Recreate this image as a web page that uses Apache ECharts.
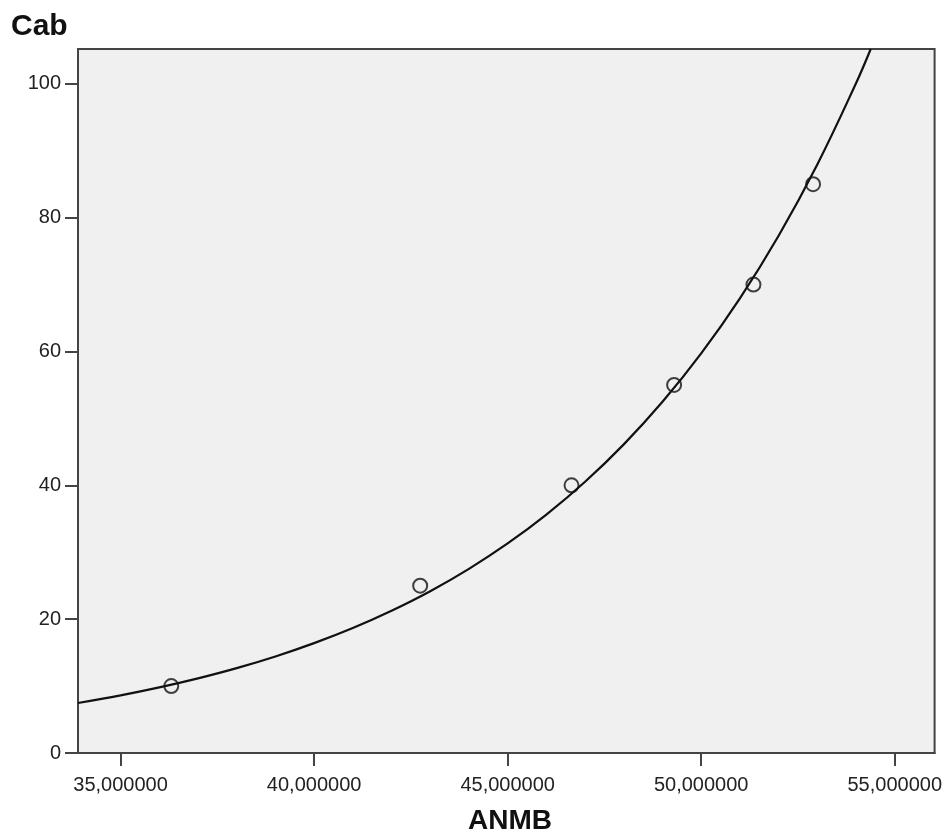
<!DOCTYPE html>
<html>
<head>
<meta charset="utf-8">
<script src="https://cdn.jsdelivr.net/npm/echarts@6/dist/echarts.min.js"></script>
<style>
  html, body { margin: 0; padding: 0; background: #fff; }
  #main { width: 945px; height: 832px; }
</style>
</head>
<body>
<div id="main"></div>
<script>
// observed cases
var anmb = [36.31, 42.74, 46.65, 49.30, 51.35, 52.89];
var cab = [10, 25, 40, 55, 70, 85];

// fitted curve
var curveX = [33.9, 35, 36, 37, 38, 39, 40, 41, 42, 43, 44, 45, 46, 47, 48, 49, 50, 51, 52, 53, 54, 54.38];
var curveY = [7.47, 8.61, 9.80, 11.15, 12.68, 14.43, 16.42, 18.68, 21.26, 24.18, 27.52, 31.31, 35.62, 40.53, 46.12, 52.48, 59.71, 67.94, 77.30, 87.95, 100.08, 105.2];

var xTicks = [35, 40, 45, 50, 55];
var yTicks = [0, 20, 40, 60, 80, 100];

var points = anmb.map(function (x, i) { return [x, cab[i]]; });
var curve = curveX.map(function (x, i) { return [x, curveY[i]]; });

var font = 'Liberation Sans, Arial, sans-serif';

var chart = echarts.init(document.getElementById('main'));
chart.setOption({
  animation: false,
  backgroundColor: '#fff',
  title: [
    { text: 'Cab', left: 6, top: 7, textStyle: { fontFamily: font, fontSize: 30, fontWeight: 'bold', color: '#111' } },
    { text: 'ANMB', left: 505, textAlign: 'center', top: 802, textStyle: { fontFamily: font, fontSize: 28, fontWeight: 'bold', color: '#111' } }
  ],
  grid: {
    left: 78, top: 49, right: 9, bottom: 79,
    show: true, backgroundColor: '#f0f0f0', borderColor: '#444', borderWidth: 2
  },
  xAxis: {
    type: 'value', min: 33.9, max: 56.03,
    axisLine: { lineStyle: { color: '#444', width: 2 } },
    axisTick: { customValues: xTicks, length: 13, lineStyle: { color: '#444', width: 2 } },
    axisLabel: {
      customValues: xTicks, margin: 22, fontFamily: font, fontSize: 20, color: '#222',
      formatter: function (v) { return v.toFixed(6).replace('.', ','); }
    },
    splitLine: { show: false }
  },
  yAxis: {
    type: 'value', min: 0, max: 105.2,
    axisLine: { show: true, lineStyle: { color: '#444', width: 2 } },
    axisTick: { show: true, customValues: yTicks, length: 13, lineStyle: { color: '#444', width: 2 } },
    axisLabel: { customValues: yTicks, margin: 17, fontFamily: font, fontSize: 20, color: '#222' },
    splitLine: { show: false }
  },
  series: [
    {
      type: 'line', data: curve, showSymbol: false, smooth: 0.4,
      lineStyle: { color: '#111', width: 2.2 }, z: 2
    },
    {
      type: 'scatter', data: points, symbol: 'circle', symbolSize: 14,
      itemStyle: { color: 'rgba(0,0,0,0)', borderColor: '#111', borderWidth: 2 }, z: 3
    }
  ]
});
</script>
</body>
</html>
